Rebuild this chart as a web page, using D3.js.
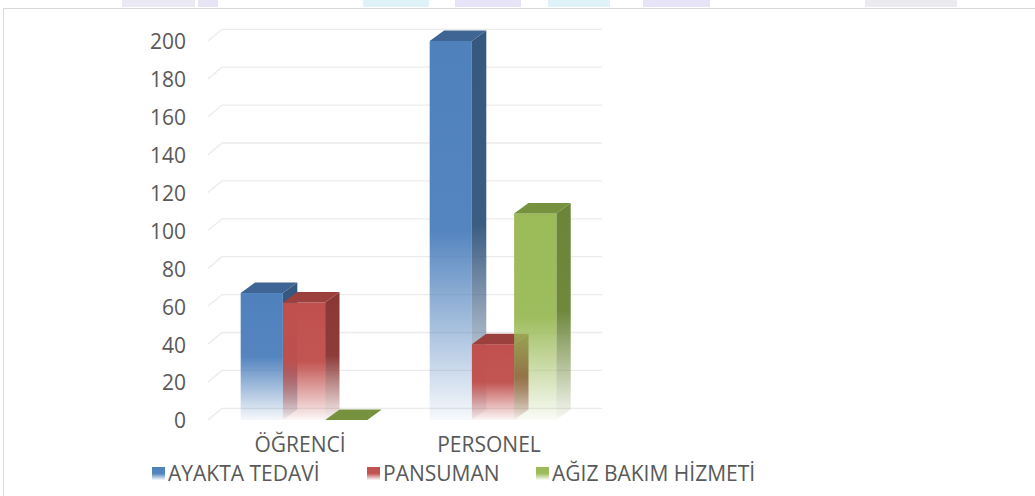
<!DOCTYPE html>
<html>
<head>
<meta charset="utf-8">
<script src="https://cdn.jsdelivr.net/npm/d3@7"></script>
<style>
  html, body { margin: 0; padding: 0; background: #ffffff; }
  svg { display: block; }
  text { font-family: "Open Sans", "Noto Sans", sans-serif; fill: #595959; }
</style>
</head>
<body>
<svg id="chart" width="1035" height="496"></svg>
<script>
// ---- data ----
const categories = ["ÖĞRENCİ", "PERSONEL"];
const seriesNames = ["AYAKTA TEDAVİ", "PANSUMAN", "AĞIZ BAKIM HİZMETİ"];
const ayaktaTedavi = [67, 200];
const pansuman = [62, 40];
const agizBakim = [0, 109];
const yTickValues = [0, 20, 40, 60, 80, 100, 120, 140, 160, 180, 200];

const seriesValues = [ayaktaTedavi, pansuman, agizBakim];
const frontColors = ["#4f81bd", "#c0504d", "#9bbb59"];
const sideColors  = ["#36587f", "#8a3634", "#6b8537"];
const topColors   = ["#3e6593", "#9b403d", "#77923e"];

// ---- layout ----
const W = 1035, H = 496;
const svg = d3.select("#chart");

const plotLeft = 208, plotRight = 588;
const gridDx = 14, gridDy = -11.7;
const barDx = 14.4, barDy = -10.5;

const y = d3.scaleLinear().domain([0, 200]).range([420, 41]);
const x0 = d3.scaleBand().domain(categories).range([209.5, 587.5]).paddingInner(0.33).paddingOuter(0.165);
const x1 = d3.scaleBand().domain(seriesNames).range([0, x0.bandwidth()]);

// background / frame (faint strip of the page behind, at the very top)
svg.append("rect").attr("x", 0).attr("y", 0).attr("width", W).attr("height", H).attr("fill", "#fff");
const topBlobs = [
  [122, 73, "#ebe9f3"], [198, 20, "#e6e4f5"], [363, 66, "#dff2f8"], [455, 66, "#e6e4f6"],
  [548, 62, "#dff2f8"], [643, 67, "#e6e4f6"], [865, 92, "#ebebef"]
];
svg.append("g").selectAll("rect").data(topBlobs).join("rect")
  .attr("x", d => d[0]).attr("y", 0)
  .attr("width", d => d[1]).attr("height", 7).attr("fill", d => d[2]);
svg.append("rect").attr("x", 3.5).attr("y", 8.5).attr("width", W + 10).attr("height", H + 10)
  .attr("fill", "#fff").attr("stroke", "#d9d9d9").attr("stroke-width", 1);

// gradients
const defs = svg.append("defs");
function addGrad(id, color) {
  const g = defs.append("linearGradient").attr("id", id)
    .attr("x1", 0).attr("y1", 0).attr("x2", 0).attr("y2", 1);
  g.append("stop").attr("offset", 0).attr("stop-color", color).attr("stop-opacity", 1);
  g.append("stop").attr("offset", 0.5).attr("stop-color", color).attr("stop-opacity", 0.97);
  g.append("stop").attr("offset", 1).attr("stop-color", color).attr("stop-opacity", 0.05);
}
seriesNames.forEach((s, i) => {
  addGrad("front" + i, frontColors[i]);
  addGrad("side" + i, sideColors[i]);
});

// gridlines (back wall with floor diagonals)
const grid = svg.append("g");
grid.selectAll("path").data(yTickValues).join("path")
  .attr("d", t => {
    const yy = y(t);
    return `M${plotLeft},${yy}L${plotLeft + gridDx},${yy + gridDy}L${plotRight + gridDx},${yy + gridDy}`;
  })
  .attr("fill", "none").attr("stroke", "#ebebeb").attr("stroke-width", 1.3);

// y tick labels
svg.append("g").selectAll("text").data(yTickValues).join("text")
  .attr("x", 186).attr("y", t => y(t) + 1).attr("dy", "0.35em")
  .attr("text-anchor", "end").attr("font-size", 21).text(t => t);

// bars
const barsG = svg.append("g");
categories.forEach((cat, ci) => {
  seriesNames.forEach((s, si) => {
    const v = seriesValues[si][ci];
    const bx = x0(cat) + x1(s);
    const bw = x1.bandwidth();
    const top = y(v), bottom = y(0);
    const g = barsG.append("g");
    if (v > 0) {
      g.append("path")
        .attr("d", `M${bx + bw},${top}L${bx + bw + barDx},${top + barDy}L${bx + bw + barDx},${bottom + barDy}L${bx + bw},${bottom}Z`)
        .attr("fill", `url(#side${si})`);
      g.append("rect").attr("x", bx).attr("y", top).attr("width", bw).attr("height", bottom - top)
        .attr("fill", `url(#front${si})`);
    }
    g.append("path")
      .attr("d", `M${bx},${top}L${bx + barDx},${top + barDy}L${bx + bw + barDx},${top + barDy}L${bx + bw},${top}Z`)
      .attr("fill", topColors[si]);
  });
});

// category labels
svg.append("g").selectAll("text").data(categories).join("text")
  .attr("x", d => x0(d) + x0.bandwidth() / 2 - 4).attr("y", 452)
  .attr("text-anchor", "middle").attr("font-size", 21).text(d => d);

// legend
const legendX = [152, 367, 536];
const legend = svg.append("g");
seriesNames.forEach((s, i) => {
  legend.append("rect").attr("x", legendX[i]).attr("y", 467).attr("width", 13).attr("height", 13)
    .attr("fill", `url(#front${i})`);
  legend.append("text").attr("x", legendX[i] + 16).attr("y", 481)
    .attr("font-size", 21).text(s);
});
</script>
</body>
</html>
